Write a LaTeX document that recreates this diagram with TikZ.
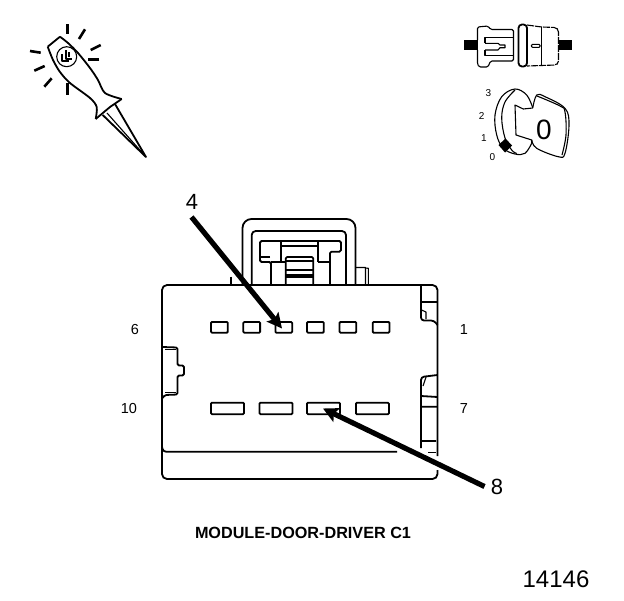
\documentclass[tikz,border=0pt]{standalone}
\usepackage{fontspec}
\setmainfont{Liberation Sans}
\usetikzlibrary{arrows.meta}
\tikzset{
  edge/.style={line width=1.8pt, line join=round},
  thinedge/.style={line width=1.1pt, line join=round},
  ray/.style={line width=2.6pt},
  pin/.style={line width=1.8pt, rounded corners=1pt},
  callout/.style={line width=5.2pt, -{Stealth[length=15pt,width=15pt,inset=3pt]}},
  pinlabel/.style={font=\fontsize{14.5}{16}\selectfont, inner sep=0pt},
  keylabel/.style={font=\fontsize{10}{12}\selectfont, inner sep=0pt},
  biglabel/.style={font=\fontsize{22}{26}\selectfont, inner sep=0pt}
}
\begin{document}
\begin{tikzpicture}[x=1pt,y=-1pt]
\useasboundingbox (0,0) rectangle (624,600);
\coordinate (tail4) at (191.5,217);
\coordinate (tip4) at (282,328.5);
\coordinate (tail8) at (484.5,486.5);
\coordinate (tip8) at (323,408.5);

% probe
\draw[edge] plot[smooth, tension=0.5] coordinates {(60,36.7) (68,43) (78,53) (90,68) (98,80) (105,93) (121.7,99)};
\draw[edge] (47.7,46.7) -- (60,36.7);
\draw[edge] (121.7,99) -- (110,107) -- (95.7,119);
\draw[edge] plot[smooth, tension=0.5] coordinates {(47.7,46.7) (53,60) (60,72) (70,83) (90,98) (96.7,107) (95.7,119)};
\draw[edge] (115,104) -- (146,157) -- (102.7,115);
\draw[thinedge] (107,113) -- (146,157);
\draw[thinedge] (66.7,56.7) circle (10);
\draw[thinedge] (62,54) -- (62,61) -- (69,61) (66,50) -- (66,59) -- (72,59) (69,52) -- (69,57);
\foreach \xa/\ya/\xb/\yb in {67.3/24.3/67.3/34.3, 85/29.3/79/39, 100.7/45/90.7/50, 99.3/59.3/88.3/59.3, 30/51/40.7/52.7, 34.3/70.7/44.7/66, 44.3/86.7/51.7/78.3, 67.3/83.3/67.3/94.7}
  \draw[ray] (\xa,\ya) -- (\xb,\yb);

% connector icon
\fill (464,40) rectangle (477.5,50);
\fill (558.5,40) rectangle (571.5,50);
\draw[thinedge, rounded corners=1.5pt] (477.5,40) -- (477.5,27) -- (488,26) -- (490.5,29.5) -- (513.5,29.5) -- (513.5,61) -- (490.5,61) -- (488,67) -- (479,67) -- (477.5,64) -- (477.5,50);
\draw[thinedge] (485,43.3) -- (485,37.7) -- (513.5,37.7) (513.5,55.7) -- (485,55.7) -- (485,50);
\draw[thinedge] (485,43.3) -- (498,43.3) -- (500,45) -- (505,45) -- (505,47.7) -- (500,47.7) -- (498,50) -- (485,50);
\draw[edge, rounded corners=3.5pt] (518.5,24.5) rectangle (527,66.5);
\draw[thinedge, dash pattern=on 7pt off 1pt, rounded corners=2pt] (527,25) -- (541.5,27) -- (556,27.5) -- (558.5,30) -- (558.5,63) -- (556,65) -- (541.5,65.5) -- (527,66);
\draw[thinedge] (541.5,27) -- (541.5,65.5);
\draw[thinedge, rounded corners=1pt] (531.5,44.3) rectangle (540,47.3);

% key icon
\draw[thinedge] plot[smooth, tension=0.6] coordinates {(532.7,107.7) (526.7,95) (515,89) (501.7,96.7) (495,115) (496.7,135) (503.3,148.3) (515,154) (525,153.3) (531.7,143.3)};
\draw[thinedge] plot[smooth, tension=0.6] coordinates {(515,90) (505,102) (501.7,118) (505,138) (511.7,150) (516.7,153.5)};
\draw[thinedge] plot[smooth, tension=0.6] coordinates {(532.7,108) (536.7,95) (545,96.7) (565,108.3) (569,125) (565,153.3) (558.3,156.7) (536.7,148.3) (531.7,140)};
\draw[thinedge] plot[smooth, tension=0.6] coordinates {(537,96) (560,106) (565,112) (566,135) (562,155)};
\draw[thinedge] (532.7,108) -- (523.3,109) -- (515,105) -- (516,135) -- (531.7,140) -- (531.7,143.3);
\fill (498.5,145) -- (505.5,138.5) -- (512,145.5) -- (505,152.5) -- cycle;
\node[inner sep=0pt, font=\fontsize{28}{30}\selectfont] (keyzero) at (544,130) {0};
\node[keylabel] (pos3) at (488.3,93.3) {3};
\node[keylabel] (pos2) at (481.7,115.7) {2};
\node[keylabel] (pos1) at (484,138) {1};
\node[keylabel] (pos0) at (492.3,156.7) {0};

% latch
\draw[edge, rounded corners=9pt] (242.5,285) -- (242.5,219) -- (355.5,219) -- (355.5,285);
\draw[edge, rounded corners=4pt] (251.7,285) -- (251.7,231) -- (346,231) -- (346,285);
\draw[edge, rounded corners=1.5pt] (271,285) -- (271,262) -- (260,262) -- (260,241) -- (341,241) -- (341,251.7) -- (330,251.7) -- (330,285);
\draw[edge] (271,262) -- (285.7,262) (318.3,261.7) -- (330,261.7);
\draw[edge] (270,257) -- (260,257) (281,241) -- (281,262) (318.3,241) -- (318.3,262) (281,246) -- (318.3,246);
\draw[edge, rounded corners=1.5pt] (285.7,285) -- (285.7,257) -- (313.3,257) -- (313.3,285);
\draw[thinedge] (285.7,261) -- (313.3,261) (285.7,270) -- (313.3,270);
\fill (285.7,273.5) rectangle (313.3,278);
\draw[thinedge] (355.5,267.5) -- (365.5,267.5) -- (365.5,285) (365.5,268) -- (368.3,268.3) -- (368.3,285) ;
\draw[thinedge] (231,276.7) -- (231,285);

% housing
\draw[edge, rounded corners=5pt] (437.5,456) -- (437.5,285) -- (162,285) -- (162,479) -- (437.5,479) -- (437.5,470);
\draw[edge, rounded corners=3pt] (162,446.5) -- (163,451.7) -- (397,451.7);
\draw[edge, rounded corners=3pt] (421,286) -- (421,320.5) -- (434,320.5) -- (437.5,325);
\draw[edge] (421,301.7) -- (437.5,301.7);
\draw[thinedge] (421.5,310) -- (426,312) -- (426,319);
\draw[edge, rounded corners=3pt] (437.5,375) -- (421,377) -- (421,448);
\draw[thinedge] (426,377) -- (423,386);
\draw[edge] (421,396) -- (437.5,397) (421,406.7) -- (437.5,406.7) (421,441) -- (436,441);
\draw[thinedge] (428,452.5) -- (436,452.5);
\draw[edge, rounded corners=1.5pt] (162.5,347) -- (177.5,347.5) -- (177.5,365.5) -- (184,365.5) -- (184,375.5) -- (177.5,375.5) -- (177.5,394.5) -- (165,395) -- (162.5,398);
\draw[thinedge] (165,349.5) -- (176,349.5) (165,392.5) -- (176,392.5);

% pins
\foreach \pinx in {211,243.3,275.4,307,339.5,372.7}
  \draw[pin] (\pinx,322) rectangle ++(16.8,10.7);
\foreach \pinx in {211,259.5,307,355.9}
  \draw[pin] (\pinx,402.7) rectangle ++(33,11.5);

\draw[callout] (tail4) -- (tip4);
\draw[callout] (tail8) -- (tip8);

% labels
\node[biglabel] (label4) at (192,201.5) {4};
\node[biglabel] (label8) at (497,487) {8};
\node[pinlabel] (label6) at (135,330) {6};
\node[pinlabel] (label1) at (464,330) {1};
\node[pinlabel] (label10) at (129,409) {10};
\node[pinlabel] (label7) at (464,409) {7};
\node[inner sep=0pt, font=\bfseries\fontsize{16.2}{18}\selectfont] (title) at (303,533) {MODULE-DOOR-DRIVER C1};
\node[inner sep=0pt, font=\fontsize{24}{28}\selectfont] (code) at (556,579) {14146};
\end{tikzpicture}
\end{document}
